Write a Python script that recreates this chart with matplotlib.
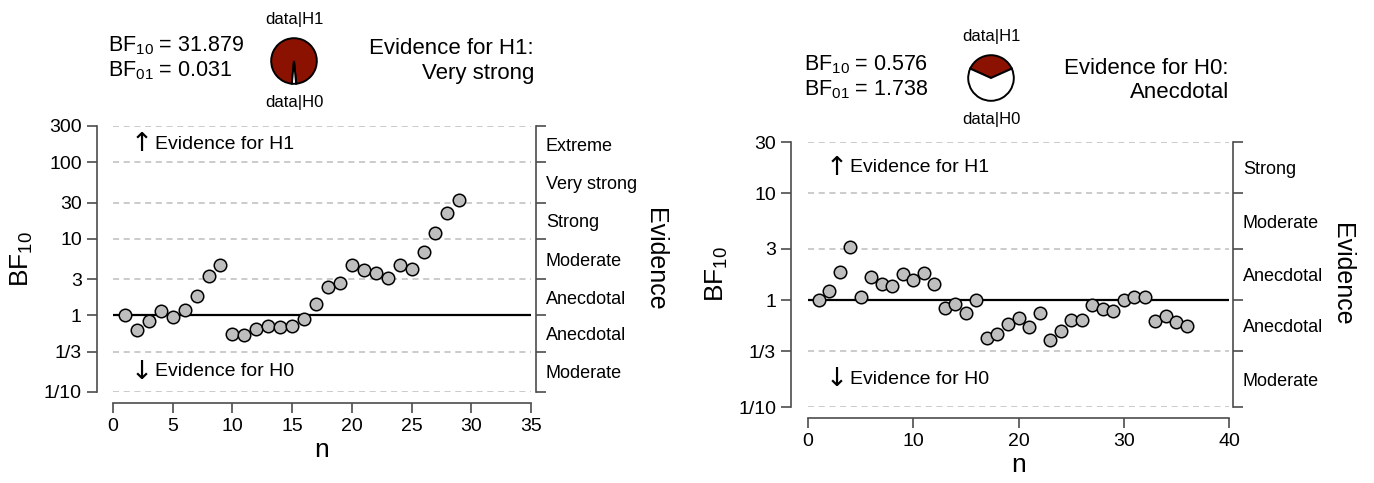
import numpy as np
import matplotlib.pyplot as plt
from matplotlib.ticker import FixedLocator, NullFormatter

plt.rcParams["font.family"] = ["Liberation Sans", "DejaVu Sans"]
plt.rcParams["mathtext.fontset"] = "custom"
plt.rcParams["mathtext.rm"] = "Liberation Sans"
plt.rcParams["mathtext.it"] = "Liberation Sans:italic"

# sequential Bayes factors, study 1
bf_left = [1.0, 0.65, 0.855, 1.16, 0.95, 1.18, 1.81, 3.28, 4.53, 0.57,
           0.556, 0.667, 0.72, 0.71, 0.72, 0.89, 1.40, 2.38, 2.69, 4.61,
           3.90, 3.59, 3.12, 4.61, 4.02, 6.76, 11.97, 21.9, 31.879]
n_left = list(range(1, len(bf_left) + 1))
bf10_left, bf01_left = 31.879, 0.031

# sequential Bayes factors, study 2
bf_right = [1.0, 1.21, 1.84, 3.16, 1.07, 1.64, 1.41, 1.35, 1.74, 1.54,
            1.79, 1.40, 0.85, 0.925, 0.75, 1.0, 0.445, 0.485, 0.593, 0.674,
            0.564, 0.763, 0.42, 0.518, 0.646, 0.646, 0.898, 0.824, 0.79, 1.0,
            1.07, 1.07, 0.637, 0.71, 0.623, 0.576]
n_right = list(range(1, len(bf_right) + 1))
bf10_right, bf01_right = 0.576, 1.738

left_ticks = [1 / 10, 1 / 3, 1, 3, 10, 30, 100, 300]
left_ticklabels = ["1/10", "1/3", "1", "3", "10", "30", "100", "300"]
left_evidence = ["Moderate", "Anecdotal", "Anecdotal", "Moderate",
                 "Strong", "Very strong", "Extreme"]

right_ticks = [1 / 10, 1 / 3, 1, 3, 10, 30]
right_ticklabels = ["1/10", "1/3", "1", "3", "10", "30"]
right_evidence = ["Moderate", "Anecdotal", "Anecdotal", "Moderate", "Strong"]

W, H = 1374, 483
DARKRED = "#8b1200"
SPINE = "#4d4d4d"


def px_axes(fig, x0, y_top, w, h):
    return fig.add_axes([x0 / W, (H - y_top - h) / H, w / W, h / H])


def robustness_panel(ax, n, bf, ticks, ticklabels, evidence, xmax, xstep,
                     offs):
    ax.set_yscale("log")
    ax.set_ylim(ticks[0], ticks[-1])
    ax.set_xlim(0, xmax)

    for t in ticks:
        if t != 1:
            ax.axhline(t, color="#bdbdbd", lw=1.1, ls=(0, (4, 3)), zorder=1)
    ax.axhline(1, color="black", lw=1.6, zorder=2)
    ax.plot(n, bf, "o", ms=9, mfc="#bebebe", mec="black", mew=1.1,
            zorder=3, clip_on=False)

    ytr = ax.get_yaxis_transform()
    top = np.sqrt(ticks[-1] * ticks[-2])
    bot = np.sqrt(ticks[0] * ticks[1])
    ax.text(0.068, top, "\u2191", transform=ytr, fontsize=19,
            ha="center", va="center", family=["DejaVu Sans"])
    ax.text(0.1, top, "Evidence for H1", transform=ytr, fontsize=14,
            va="center")
    ax.text(0.068, bot, "\u2193", transform=ytr, fontsize=19,
            ha="center", va="center", family=["DejaVu Sans"])
    ax.text(0.1, bot, "Evidence for H0", transform=ytr, fontsize=14,
            va="center")

    ax.yaxis.set_major_locator(FixedLocator(ticks))
    ax.yaxis.set_minor_locator(FixedLocator([]))
    ax.set_yticklabels(ticklabels)
    ax.set_xticks(np.arange(0, xmax + 1, xstep))
    ax.tick_params(axis="both", which="major", length=7, width=1.2,
                   color=SPINE, labelsize=14, pad=4)

    for side in ["top", "right"]:
        ax.spines[side].set_visible(False)
    ax.spines["left"].set_position(("outward", offs[0]))
    ax.spines["bottom"].set_position(("outward", offs[1]))
    for side in ["left", "bottom"]:
        ax.spines[side].set_color(SPINE)
        ax.spines[side].set_linewidth(1.2)

    ax.set_xlabel("n", fontsize=19, labelpad=2)
    ax.set_ylabel("BF$_{10}$", fontsize=19, labelpad=6)

    # evidence categories on the right-hand axis
    ax2 = ax.twinx()
    ax2.set_yscale("log")
    ax2.set_ylim(ticks[0], ticks[-1])
    ax2.yaxis.set_major_locator(FixedLocator(ticks))
    ax2.yaxis.set_major_formatter(NullFormatter())
    mids = [np.sqrt(a * b) for a, b in zip(ticks[:-1], ticks[1:])]
    ax2.yaxis.set_minor_locator(FixedLocator(mids))
    ax2.set_yticklabels(evidence, minor=True)
    ax2.tick_params(axis="y", which="major", length=7, width=1.2,
                    color=SPINE)
    ax2.tick_params(axis="y", which="minor", length=0, pad=7,
                    labelsize=13)
    for side in ["top", "left", "bottom"]:
        ax2.spines[side].set_visible(False)
    ax2.spines["right"].set_position(("outward", offs[2]))
    ax2.spines["right"].set_color(SPINE)
    ax2.spines["right"].set_linewidth(1.2)
    ax2.set_ylabel("Evidence", fontsize=18, rotation=-90, labelpad=22)


def bf_pie(fig, cx, cy, bf10):
    r = 28.5
    pax = px_axes(fig, cx - r, cy - r, 2 * r, 2 * r)
    p1 = bf10 / (1 + bf10)
    pax.pie([p1, 1 - p1], colors=[DARKRED, "white"],
            startangle=90 - 180 * p1, counterclock=True,
            wedgeprops=dict(edgecolor="black", linewidth=1.4))
    pax.set_aspect("equal")
    fig.text(cx / W, 1 - (cy - r - 13) / H, "data|H1", fontsize=12,
             ha="center", va="center")
    fig.text(cx / W, 1 - (cy + r + 13) / H, "data|H0", fontsize=12,
             ha="center", va="center")


def header(fig, x_left, x_right, y, bf10, bf01, verdict):
    fig.text(x_left / W, 1 - y / H, "BF$_{10}$ = %.3f" % bf10,
             fontsize=15.5, va="center")
    fig.text(x_left / W, 1 - (y + 25) / H, "BF$_{01}$ = %.3f" % bf01,
             fontsize=15.5, va="center")
    fig.text(x_right / W, 1 - (y + 3) / H, verdict[0], fontsize=16,
             ha="right", va="center")
    fig.text(x_right / W, 1 - (y + 28) / H, verdict[1], fontsize=16,
             ha="right", va="center")


fig = plt.figure(figsize=(W / 100, H / 100), dpi=100)

ax_l = px_axes(fig, 113, 126, 418, 266)
robustness_panel(ax_l, n_left, bf_left, left_ticks, left_ticklabels,
                 left_evidence, 35, 5, (11.5, 7.7, 3.6))
header(fig, 108, 534, 46, bf10_left, bf01_left,
       ("Evidence for H1:", "Very strong"))
bf_pie(fig, 294, 61, bf10_left)

ax_r = px_axes(fig, 808, 142, 421, 265)
robustness_panel(ax_r, n_right, bf_right, right_ticks, right_ticklabels,
                 right_evidence, 40, 10, (12, 8, 3))
header(fig, 804, 1229, 65, bf10_right, bf01_right,
       ("Evidence for H0:", "Anecdotal"))
bf_pie(fig, 991, 78, bf10_right)

fig.savefig("out.png", dpi=100)
